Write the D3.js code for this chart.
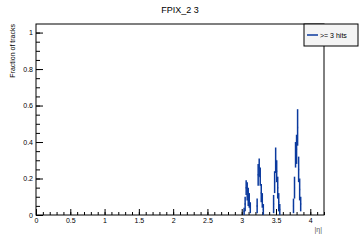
<!DOCTYPE html>
<html>
<head>
<meta charset="utf-8">
<script src="https://cdn.jsdelivr.net/npm/d3@7"></script>
<style>
  body { margin: 0; background: #fff; }
  text { font-family: "Liberation Sans", Arial, sans-serif; }
</style>
</head>
<body>
<div id="chart"></div>
<script>
// bin centres, contents and errors
const binCenters = [
  3.035, 3.05, 3.065, 3.08, 3.095, 3.11, 3.125,
  3.225, 3.24, 3.255, 3.27, 3.285, 3.30, 3.315,
  3.465, 3.48, 3.495, 3.51, 3.525, 3.54, 3.555,
  3.755, 3.77, 3.785, 3.80, 3.815, 3.83, 3.845, 3.86
];
const binValues = [
  0.02, 0.06, 0.15, 0.13, 0.10, 0.08, 0.04,
  0.05, 0.22, 0.26, 0.21, 0.12, 0.08, 0.03,
  0.06, 0.18, 0.30, 0.24, 0.15, 0.07, 0.03,
  0.05, 0.15, 0.33, 0.36, 0.48, 0.25, 0.14, 0.06
];
const binErrors = [
  0.02, 0.04, 0.04, 0.05, 0.05, 0.04, 0.03,
  0.04, 0.06, 0.05, 0.05, 0.05, 0.04, 0.03,
  0.05, 0.06, 0.07, 0.06, 0.06, 0.05, 0.03,
  0.04, 0.06, 0.07, 0.08, 0.10, 0.07, 0.06, 0.04
];
const xTicks = [0, 0.5, 1, 1.5, 2, 2.5, 3, 3.5, 4];
const yTicks = [0, 0.2, 0.4, 0.6, 0.8, 1];

const width = 360, height = 240;
const frameL = 36, frameR = 324, frameT = 24, frameB = 215;
const binWidth = 0.015;
const blue = "#0b3a9e";

const svg = d3.select("#chart").append("svg")
  .attr("width", width)
  .attr("height", height);

const x = d3.scaleLinear().domain([0, 4.2]).range([frameL, frameR]);
const y = d3.scaleLinear().domain([0, 1.047]).range([frameB, frameT]);

// frame
svg.append("rect")
  .attr("x", frameL).attr("y", frameT)
  .attr("width", frameR - frameL).attr("height", frameB - frameT)
  .attr("fill", "none").attr("stroke", "#000").attr("stroke-width", 1);

// x axis
const xAxis = svg.append("g").attr("transform", `translate(0,${frameB})`);
xAxis.call(d3.axisBottom(x).tickValues(d3.range(0, 4.21, 0.1)).tickSize(-3).tickFormat(""))
  .call(g => g.select(".domain").remove());
xAxis.append("g")
  .call(d3.axisBottom(x).tickValues(xTicks).tickSize(-6).tickPadding(3).tickFormat(d3.format("")))
  .call(g => g.select(".domain").remove())
  .call(g => g.selectAll("text").attr("font-size", 7).attr("fill", "#000"));

// y axis
const yAxis = svg.append("g").attr("transform", `translate(${frameL},0)`);
yAxis.call(d3.axisLeft(y).tickValues(d3.range(0, 1.01, 0.05)).tickSize(-4).tickFormat(""))
  .call(g => g.select(".domain").remove());
yAxis.append("g")
  .call(d3.axisLeft(y).tickValues(yTicks).tickSize(-7).tickPadding(3).tickFormat(d3.format("")))
  .call(g => g.select(".domain").remove())
  .call(g => g.selectAll("text").attr("font-size", 7).attr("fill", "#000"));

svg.selectAll(".tick line").attr("stroke", "#000");

// histogram drawn with error bars
const bins = binCenters.map((c, i) => ({ c, v: binValues[i], e: binErrors[i] }));
const marks = svg.append("g").attr("stroke", blue).attr("stroke-width", 1.5);
marks.selectAll(".err")
  .data(bins)
  .enter()
  .append("line")
  .attr("x1", d => x(d.c)).attr("x2", d => x(d.c))
  .attr("y1", d => y(Math.max(0, d.v - d.e)))
  .attr("y2", d => y(d.v + d.e));
marks.selectAll(".bw")
  .data(bins)
  .enter()
  .append("line")
  .attr("x1", d => x(d.c - binWidth / 2)).attr("x2", d => x(d.c + binWidth / 2))
  .attr("y1", d => y(d.v)).attr("y2", d => y(d.v));

// titles
svg.append("text")
  .attr("x", 180).attr("y", 13)
  .attr("text-anchor", "middle")
  .attr("font-size", 9)
  .text("FPIX_2 3");

svg.append("text")
  .attr("transform", `translate(15,${frameT}) rotate(-90)`)
  .attr("text-anchor", "end")
  .attr("font-size", 7)
  .text("Fraction of tracks");

svg.append("text")
  .attr("x", frameR - 2).attr("y", 232)
  .attr("text-anchor", "end")
  .attr("font-size", 7)
  .attr("fill", "#555")
  .text("|η|");

// legend
const legend = svg.append("g");
legend.append("rect")
  .attr("x", 304).attr("y", 24)
  .attr("width", 54).attr("height", 22)
  .attr("fill", "#f4f4f4").attr("stroke", "#000").attr("stroke-width", 1);
legend.append("line")
  .attr("x1", 307).attr("x2", 318)
  .attr("y1", 35).attr("y2", 35)
  .attr("stroke", blue).attr("stroke-width", 1.5);
legend.append("text")
  .attr("x", 320).attr("y", 37.5)
  .attr("font-size", 7)
  .text(">= 3 hits");
</script>
</body>
</html>
